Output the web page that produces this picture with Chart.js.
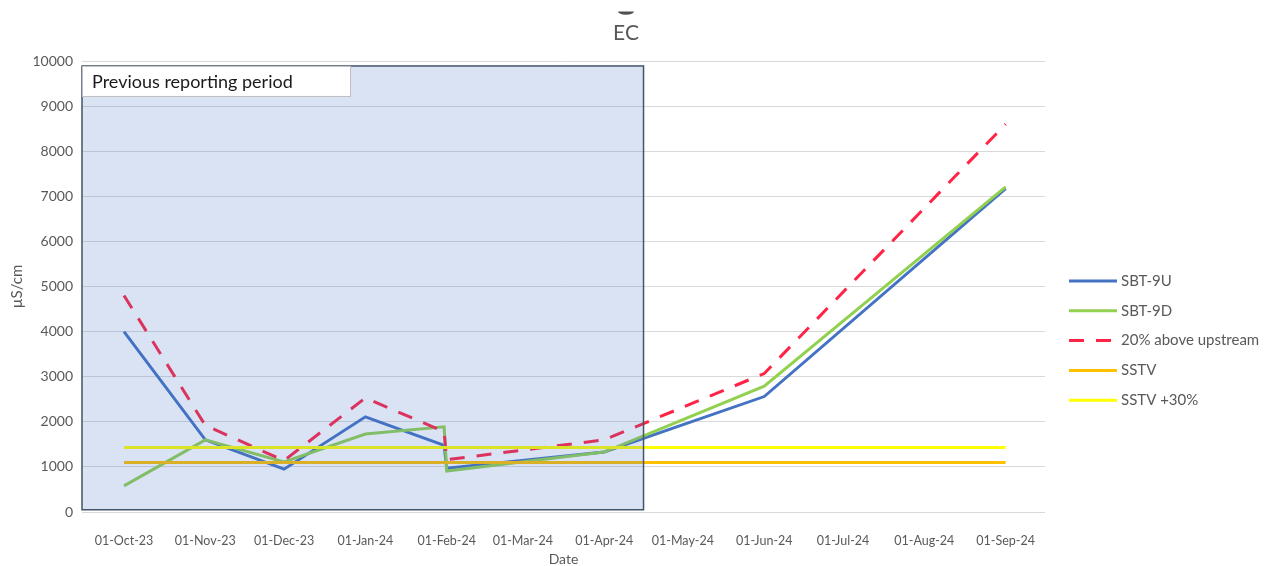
<!DOCTYPE html>
<html>
  <head>
    <title>EC</title>
    <style>
      body { margin: 0; background: #fff; }
    </style>
  </head>
  <body>

    <!-- Chart.js from the CDN -->
    <script src="https://cdn.jsdelivr.net/npm/chart.js@4.4.1/dist/chart.umd.min.js"></script>

    <canvas id="ecChart" width="1273" height="566"></canvas>

    <script>

      // Sampling dates (two samples either side of the start of February)
      const dates = ['2023-10-01', '2023-11-01', '2023-12-01', '2024-01-01', '2024-01-31', '2024-02-01', '2024-04-01', '2024-06-01', '2024-09-01'];

      // EC readings in µS/cm
      const sbt9u = [4000, 1600, 950, 2110, 1480, 970, 1330, 2560, 7170];
      const sbt9d = [580, 1600, 1110, 1730, 1890, 910, 1330, 2790, 7210];
      const upstream20 = [4800, 1920, 1140, 2530, 1780, 1160, 1600, 3070, 8600];

      // Trigger values, drawn across the whole sampling range
      const sstv = [1100, 1100];
      const sstv30 = [1430, 1430];

      // Month ticks on the date axis
      const tickDates = ['2023-10-01', '2023-11-01', '2023-12-01', '2024-01-01', '2024-02-01', '2024-03-01', '2024-04-01', '2024-05-01', '2024-06-01', '2024-07-01', '2024-08-01', '2024-09-01'];
      const tickLabels = ['01-Oct-23', '01-Nov-23', '01-Dec-23', '01-Jan-24', '01-Feb-24', '01-Mar-24', '01-Apr-24', '01-May-24', '01-Jun-24', '01-Jul-24', '01-Aug-24', '01-Sep-24'];

      // Shaded "previous reporting period"
      const periodEnd = '2024-04-16';
      const periodTop = 9890;

      // Dates are plotted as day numbers on a linear axis
      const toDays = s => Date.parse(s) / 86400000;
      const pts = vals => vals.map((v, i) => ({ x: toDays(dates[i]), y: v }));
      const ends = vals => [{ x: toDays(dates[0]), y: vals[0] }, { x: toDays(dates[dates.length - 1]), y: vals[1] }];

      const font = 'Lato, "Open Sans", sans-serif';
      const grey = '#595959';

      // Draws the reporting-period box, its label, the title and the legend
      const extras = {
        id: 'extras',
        afterDatasetsDraw(chart) {
          const { ctx, chartArea, scales } = chart;
          const x0 = chartArea.left;
          const x1 = scales.x.getPixelForValue(toDays(periodEnd));
          const y0 = scales.y.getPixelForValue(periodTop);
          const y1 = scales.y.getPixelForValue(50);
          ctx.save();
          ctx.fillStyle = 'rgba(68,114,196,0.2)';
          ctx.fillRect(x0, y0, x1 - x0, y1 - y0);
          ctx.strokeStyle = '#44546A';
          ctx.lineWidth = 1.5;
          ctx.strokeRect(x0, y0, x1 - x0, y1 - y0);

          // label box in the top-left corner of the period
          ctx.fillStyle = '#fff';
          ctx.fillRect(x0, y0, 268, 30);
          ctx.strokeStyle = '#bfbfbf';
          ctx.lineWidth = 1;
          ctx.strokeRect(x0 + 0.5, y0 + 0.5, 268, 30);
          ctx.fillStyle = '#1a1a1a';
          ctx.font = '18px ' + font;
          ctx.textBaseline = 'middle';
          ctx.fillText('Previous reporting period', x0 + 10, y0 + 16);
          ctx.restore();
        },
        afterDraw(chart) {
          const { ctx } = chart;
          ctx.save();
          chart.data.datasets.forEach((ds, i) => {
            const y = 281 + i * 29.8;
            ctx.beginPath();
            ctx.strokeStyle = ds.borderColor;
            ctx.lineWidth = 3;
            ctx.setLineDash(ds.borderDash || []);
            ctx.moveTo(1069, y);
            ctx.lineTo(1117, y);
            ctx.stroke();
            ctx.setLineDash([]);
            ctx.fillStyle = grey;
            ctx.font = '15px ' + font;
            ctx.textBaseline = 'middle';
            ctx.fillText(ds.label, 1121, y);
          });

          // chart title, centred on the page
          ctx.fillStyle = grey;
          ctx.font = '21px ' + font;
          ctx.textAlign = 'center';
          ctx.fillText('EC', 626, 33);

          // small dark mark above the title
          ctx.beginPath();
          ctx.fillStyle = '#505050';
          ctx.ellipse(626, 11.5, 8, 3.2, 0, 0, Math.PI);
          ctx.fill();
          ctx.restore();
        }
      };

      const ctx = document.getElementById('ecChart').getContext('2d');

      const chart = new Chart(ctx, {
        type: 'line',
        data: {
          datasets: [
            { label: 'SBT-9U', data: pts(sbt9u), borderColor: '#4472C4', borderWidth: 3, order: 5 },
            { label: 'SBT-9D', data: pts(sbt9d), borderColor: '#92D050', borderWidth: 3, order: 4 },
            { label: '20% above upstream', data: pts(upstream20), borderColor: '#FF2445', borderWidth: 3, borderDash: [15, 12], order: 3 },
            { label: 'SSTV', data: ends(sstv), borderColor: '#FFC000', borderWidth: 3, order: 2 },
            { label: 'SSTV +30%', data: ends(sstv30), borderColor: '#FFFF00', borderWidth: 3, order: 1 }
          ]
        },
        options: {
          responsive: false,
          animation: false,
          elements: {
            point: { radius: 0 },
            line: { tension: 0 }
          },
          layout: { padding: { top: 61, right: 228 } },
          plugins: {
            legend: { display: false },
            tooltip: { enabled: false },
            title: { display: false }
          },
          scales: {
            x: {
              type: 'linear',
              min: toDays('2023-09-15'),
              max: toDays('2024-09-16'),
              afterBuildTicks: scale => { scale.ticks = tickDates.map(d => ({ value: toDays(d) })); },
              afterFit: scale => { scale.height = 54; },
              grid: { display: false },
              border: { display: false },
              ticks: {
                autoSkip: false,
                maxRotation: 0,
                padding: 13,
                color: grey,
                font: { family: font, size: 12.5 },
                callback: (value, index) => tickLabels[index]
              },
              title: {
                display: true,
                text: 'Date',
                color: grey,
                font: { family: font, size: 14, lineHeight: 1 },
                padding: { top: 0, bottom: 0 }
              }
            },
            y: {
              min: 0,
              max: 10000,
              afterFit: scale => { scale.width = 82; },
              grid: { color: '#d9d9d9', drawTicks: false },
              border: { display: false },
              ticks: {
                stepSize: 1000,
                padding: 9,
                color: grey,
                font: { family: font, size: 14 },
                callback: value => String(value)
              },
              title: {
                display: true,
                text: 'µS/cm',
                color: grey,
                font: { family: font, size: 15 },
                padding: { top: 8, bottom: 0 }
              }
            }
          }
        },
        plugins: [extras]
      });

    </script>
  </body>
</html>
